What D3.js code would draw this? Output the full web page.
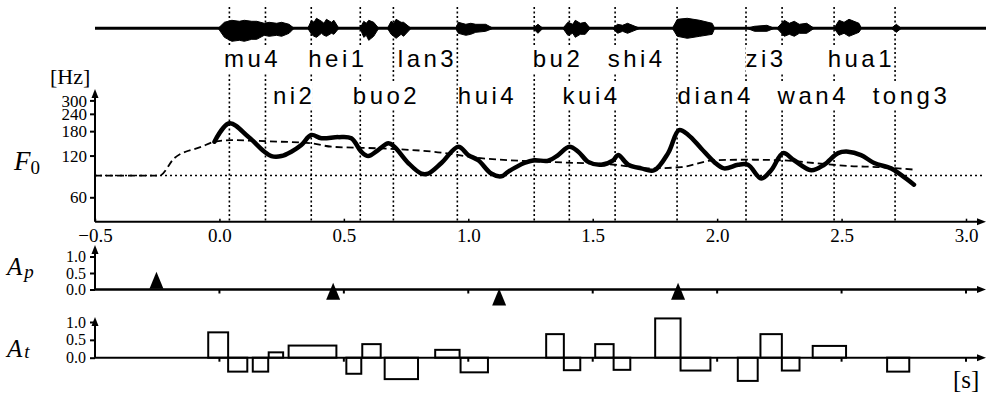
<!DOCTYPE html>
<html><head><meta charset="utf-8">
<script src="https://cdn.jsdelivr.net/npm/d3@7/dist/d3.min.js"></script>
<style>body{margin:0;background:#fff}svg{display:block}</style>
</head><body>
<svg id="c" width="986" height="396"></svg>
<script>
// ---------- data ----------
const xDomain = [-0.5, 3.0];
const xTicks = [-0.5, 0.0, 0.5, 1.0, 1.5, 2.0, 2.5, 3.0];
const f0Ticks = [60, 120, 180, 240, 300];
const apTicks = [0.0, 0.5, 1.0];
const atTicks = [0.0, 0.5, 1.0];

const syllables = ["mu4","ni2","hei1","buo2","lan3","hui4","bu2","kui4","shi4","dian4","zi3","wan4","hua1","tong3"];
const onsets    = [0.040,0.185,0.369,0.566,0.699,0.956,1.265,1.406,1.590,1.839,2.116,2.261,2.470,2.715];
const labelTimes= [0.018,0.215,0.357,0.536,0.717,0.958,1.259,1.379,1.560,1.841,2.114,2.243,2.444,2.625];

const f0Time = [-0.02,0.04,0.116,0.181,0.209,0.249,0.289,0.329,0.369,0.41,0.478,0.53,0.57,0.598,0.639,0.679,0.703,0.759,0.811,0.839,0.892,0.96,1.0,1.04,1.092,1.133,1.161,1.225,1.265,1.321,1.361,1.406,1.442,1.482,1.534,1.582,1.602,1.643,1.695,1.747,1.803,1.847,1.884,1.936,1.988,2.028,2.084,2.124,2.177,2.217,2.265,2.309,2.378,2.43,2.486,2.526,2.578,2.631,2.699,2.739,2.791];
const f0Hz   = [151,205,164,128,119,119,128,143,169,160,163,160,128,119,132,147,139,106,89,89,106,139,121,111,89,85,92,106,111,110,121,139,128,108,103,111,121,103,97,94,125,183,169,135,108,97,103,103,82,94,125,111,94,103,125,128,121,106,97,87,74];

const phraseTime = [-0.5,-0.241,-0.181,-0.072,-0.02,0.048,0.197,0.37,0.45,0.65,0.86,1.05,1.32,1.59,1.72,1.855,1.988,2.124,2.257,2.39,2.526,2.659,2.79];
const phraseHz   = [86,86,115,139,151,155,152,147,139,135,128,115,108,103,97,99,111,112,111,106,101,99,95];
const baselineHz = 86;

const apTime  = [-0.253, 0.457, 1.124, 1.843];
const apValue = [0.28, -0.05, -0.23, -0.055];

const atOn  = [-0.045,0.035,0.134,0.198,0.278,0.510,0.574,0.664,0.867,0.969,1.313,1.384,1.510,1.584,1.751,1.853,2.083,2.174,2.260,2.384,2.683];
const atOff = [0.035,0.112,0.196,0.256,0.470,0.570,0.648,0.798,0.965,1.079,1.384,1.450,1.584,1.651,1.853,1.973,2.163,2.260,2.331,2.518,2.772];
const atAmp = [0.71,-0.39,-0.39,0.15,0.34,-0.45,0.38,-0.60,0.22,-0.41,0.66,-0.35,0.38,-0.34,1.10,-0.36,-0.65,0.66,-0.36,0.33,-0.39];

const waveTime = [-0.005,0.02,0.05,0.08,0.10,0.13,0.15,0.18,0.20,0.23,0.25,0.28,0.30, 0.355,0.37,0.38,0.39,0.41,0.42,0.43,0.45,0.46,0.48, 0.565,0.58,0.59,0.60,0.62,0.64, 0.675,0.69,0.70,0.71,0.73,0.74,0.77, 0.95,0.96,0.99,1.01,1.03,1.07,1.10, 1.26,1.28,1.30, 1.38,1.40,1.42,1.43,1.45,1.47,1.49, 1.58,1.60,1.62,1.64,1.69, 1.82,1.84,1.88,1.93,1.98,1.99, 2.12,2.15,2.20,2.23, 2.24,2.27,2.29,2.31,2.33,2.36,2.39, 2.47,2.49,2.51,2.53,2.57,2.58, 2.70,2.72,2.74];
const waveUp   = [0,6,8,7,8,7,7,5,6,5,6,4,0, 0,8,6,10,7,5,9,6,8,0, 0,7,5,8,6,0, 0,7,5,9,6,6,0, 0,6,4,5,4,4,0, 0,4,0, 0,6,4,8,5,6,0, 0,4,3,5,0, 0,9,10,8,5,0, 0,2,3,0, 0,8,5,7,4,5,0, 0,8,6,9,5,0, 0,4,0];
const waveDown = [0,9,13,12,13,11,11,7,8,7,8,5,0, 0,6,8,9,5,7,8,5,6,0, 0,9,7,12,8,0, 0,6,8,10,6,8,0, 0,5,7,6,4,3,0, 0,5,0, 0,7,5,9,6,6,0, 0,5,3,5,0, 0,8,10,8,6,0, 0,3,3,0, 0,8,6,8,5,5,0, 0,7,5,8,4,0, 0,4,0];

// ---------- setup ----------
const SERIF = '"Liberation Serif","Times New Roman",serif';
const SANS  = '"Liberation Sans",Arial,sans-serif';
const svg = d3.select("#c");

const x   = d3.scaleLinear().domain(xDomain).range([95, 966]);
const yF0 = d3.scaleLog().domain([40, 300]).range([221.7, 100.4]);
const yAp = d3.scaleLinear().domain([0, 1]).range([289.5, 256.5]);
const yAt = d3.scaleLinear().domain([0, 1]).range([357.7, 322]);
const yW  = d3.scaleLinear().domain([-10, 10]).range([38.3, 18.3]);
const xEnd = 986;

function arrow(px, py, dir) {
  const L = 9, W = 3.5;
  let p;
  if (dir === "up") p = [[px, py], [px - W, py + L], [px + W, py + L]];
  else p = [[px, py], [px - L, py - W], [px - L, py + W]];
  svg.append("path").attr("d", "M" + p.join("L") + "Z").attr("fill", "#000");
}

// ---------- waveform ----------
svg.append("line").attr("x1", x(-0.5)).attr("x2", xEnd).attr("y1", yW(0)).attr("y2", yW(0))
  .attr("stroke", "#000").attr("stroke-width", 3);
const wIdx = d3.range(waveTime.length);
svg.append("path").datum(wIdx)
  .attr("d", d3.area().x(i => x(waveTime[i])).y0(i => yW(-waveDown[i])).y1(i => yW(waveUp[i])))
  .attr("fill", "#000").attr("stroke", "#000").attr("stroke-width", 1);

// ---------- syllable boundaries ----------
svg.append("g").selectAll("line").data(onsets).join("line")
  .attr("x1", d => x(d)).attr("x2", d => x(d)).attr("y1", 7).attr("y2", yF0.range()[0])
  .attr("stroke", "#000").attr("stroke-width", 1.6).attr("stroke-dasharray", "2,2.5");

// ---------- syllable labels ----------
const lab = svg.append("g");
syllables.forEach((s, i) => {
  const by = i % 2 === 0 ? 67 : 104;
  const t = lab.append("text").attr("x", x(labelTimes[i])).attr("y", by)
    .attr("font-family", SANS).attr("font-size", 24).attr("letter-spacing", 3.5)
    .attr("fill", "#000").text(s);
  const b = t.node().getBBox();
  lab.insert("rect", "text").attr("x", b.x).attr("y", b.y).attr("width", b.width - 3).attr("height", b.height)
    .attr("fill", "#fff");
});

// ---------- F0 panel ----------
const x0 = x(-0.5), yb = yF0.range()[0];
svg.append("line").attr("x1", x0).attr("x2", x0).attr("y1", yb).attr("y2", 96).attr("stroke", "#000").attr("stroke-width", 2);
arrow(x0, 89, "up");
svg.append("line").attr("x1", x0).attr("x2", xEnd - 6).attr("y1", yb).attr("y2", yb).attr("stroke", "#000").attr("stroke-width", 2);
arrow(xEnd, yb, "right");
const gy = svg.append("g").attr("transform", `translate(${x0},0)`)
  .call(d3.axisLeft(yF0).tickValues(f0Ticks).tickSize(5).tickPadding(3).tickFormat(d3.format("d")));
gy.select(".domain").remove();
gy.selectAll("line").attr("stroke-width", 2);
gy.selectAll("text").attr("font-family", SERIF).attr("font-size", 17).attr("dy", "0.33em");
const gx = svg.append("g").attr("transform", `translate(0,${yb})`)
  .call(d3.axisBottom(x).tickValues(xTicks).tickSize(-3).tickPadding(7).tickFormat(d3.format(".1f")));
gx.select(".domain").remove();
gx.selectAll("line").attr("stroke-width", 1.5);
gx.selectAll("text").attr("font-family", SERIF).attr("font-size", 19).attr("dy", "0.71em");

svg.append("text").attr("x", 50).attr("y", 84).attr("font-family", SERIF).attr("font-size", 22).text("[Hz]");
const f0lab = svg.append("text").attr("x", 14).attr("y", 170).attr("font-family", SERIF).attr("font-size", 27);
f0lab.append("tspan").attr("font-style", "italic").text("F");
f0lab.append("tspan").attr("font-size", 19).attr("dy", 4).text("0");

// baseline Fb (dotted)
svg.append("line").attr("x1", x0).attr("x2", xEnd - 4).attr("y1", yF0(baselineHz)).attr("y2", yF0(baselineHz))
  .attr("stroke", "#000").attr("stroke-width", 1.5).attr("stroke-dasharray", "2,3");
// phrase component (dashed)
const pIdx = d3.range(phraseTime.length);
svg.append("path").datum(pIdx)
  .attr("d", d3.line().x(i => x(phraseTime[i])).y(i => yF0(phraseHz[i])).curve(d3.curveMonotoneX))
  .attr("fill", "none").attr("stroke", "#000").attr("stroke-width", 1.8).attr("stroke-dasharray", "7,4");
// F0 contour
const fIdx = d3.range(f0Time.length);
svg.append("path").datum(fIdx)
  .attr("d", d3.line().x(i => x(f0Time[i])).y(i => yF0(f0Hz[i])).curve(d3.curveCatmullRom))
  .attr("fill", "none").attr("stroke", "#000").attr("stroke-width", 4.5)
  .attr("stroke-linejoin", "round").attr("stroke-linecap", "round");

// ---------- Ap panel ----------
const apb = yAp(0);
svg.append("line").attr("x1", x0).attr("x2", x0).attr("y1", apb).attr("y2", 252).attr("stroke", "#000").attr("stroke-width", 2);
arrow(x0, 245, "up");
svg.append("line").attr("x1", x0).attr("x2", xEnd - 6).attr("y1", apb).attr("y2", apb).attr("stroke", "#000").attr("stroke-width", 2.5);
arrow(xEnd, apb, "right");
const gap = svg.append("g").attr("transform", `translate(${x0},0)`)
  .call(d3.axisLeft(yAp).tickValues(apTicks).tickSize(5).tickPadding(4).tickFormat(d3.format(".1f")));
gap.select(".domain").remove();
gap.selectAll("line").attr("stroke-width", 2);
gap.selectAll("text").attr("font-family", SERIF).attr("font-size", 16).attr("dy", "0.32em");
svg.append("g").selectAll("line").data(xTicks.slice(1)).join("line")
  .attr("x1", d => x(d)).attr("x2", d => x(d)).attr("y1", apb).attr("y2", apb + 4)
  .attr("stroke", "#000").attr("stroke-width", 2);
svg.append("g").selectAll("path").data(d3.range(apTime.length)).join("path")
  .attr("d", i => { const cx = x(apTime[i]), cy = yAp(apValue[i]);
    return `M${cx - 7},${cy + 8.5}L${cx},${cy - 8.5}L${cx + 7},${cy + 8.5}Z`; })
  .attr("fill", "#000");
const aplab = svg.append("text").attr("x", 7).attr("y", 275).attr("font-family", SERIF).attr("font-size", 25).attr("font-style", "italic");
aplab.append("tspan").text("A");
aplab.append("tspan").attr("font-size", 19).attr("dy", 3).attr("dx", 2).text("p");

// ---------- At panel ----------
const atb = yAt(0);
svg.append("line").attr("x1", x0).attr("x2", x0).attr("y1", atb).attr("y2", 324).attr("stroke", "#000").attr("stroke-width", 2);
arrow(x0, 317, "up");
svg.append("line").attr("x1", x0).attr("x2", xEnd - 6).attr("y1", atb).attr("y2", atb).attr("stroke", "#000").attr("stroke-width", 2);
arrow(xEnd, atb, "right");
const gat = svg.append("g").attr("transform", `translate(${x0},0)`)
  .call(d3.axisLeft(yAt).tickValues(atTicks).tickSize(5).tickPadding(4).tickFormat(d3.format(".1f")));
gat.select(".domain").remove();
gat.selectAll("line").attr("stroke-width", 2);
gat.selectAll("text").attr("font-family", SERIF).attr("font-size", 16).attr("dy", "0.32em");
svg.append("g").selectAll("line").data(xTicks.slice(1)).join("line")
  .attr("x1", d => x(d)).attr("x2", d => x(d)).attr("y1", atb).attr("y2", atb + 4)
  .attr("stroke", "#000").attr("stroke-width", 2);
svg.append("g").selectAll("rect").data(d3.range(atOn.length)).join("rect")
  .attr("x", i => x(atOn[i])).attr("width", i => x(atOff[i]) - x(atOn[i]))
  .attr("y", i => Math.min(yAt(atAmp[i]), atb)).attr("height", i => Math.abs(yAt(atAmp[i]) - atb))
  .attr("fill", "none").attr("stroke", "#000").attr("stroke-width", 2);
const atlab = svg.append("text").attr("x", 7).attr("y", 357).attr("font-family", SERIF).attr("font-size", 25).attr("font-style", "italic");
atlab.append("tspan").text("A");
atlab.append("tspan").attr("font-size", 19).attr("dy", 1).attr("dx", 2).text("t");

svg.append("text").attr("x", 953).attr("y", 388).attr("font-family", SERIF).attr("font-size", 25).text("[s]");
</script>
</body></html>
